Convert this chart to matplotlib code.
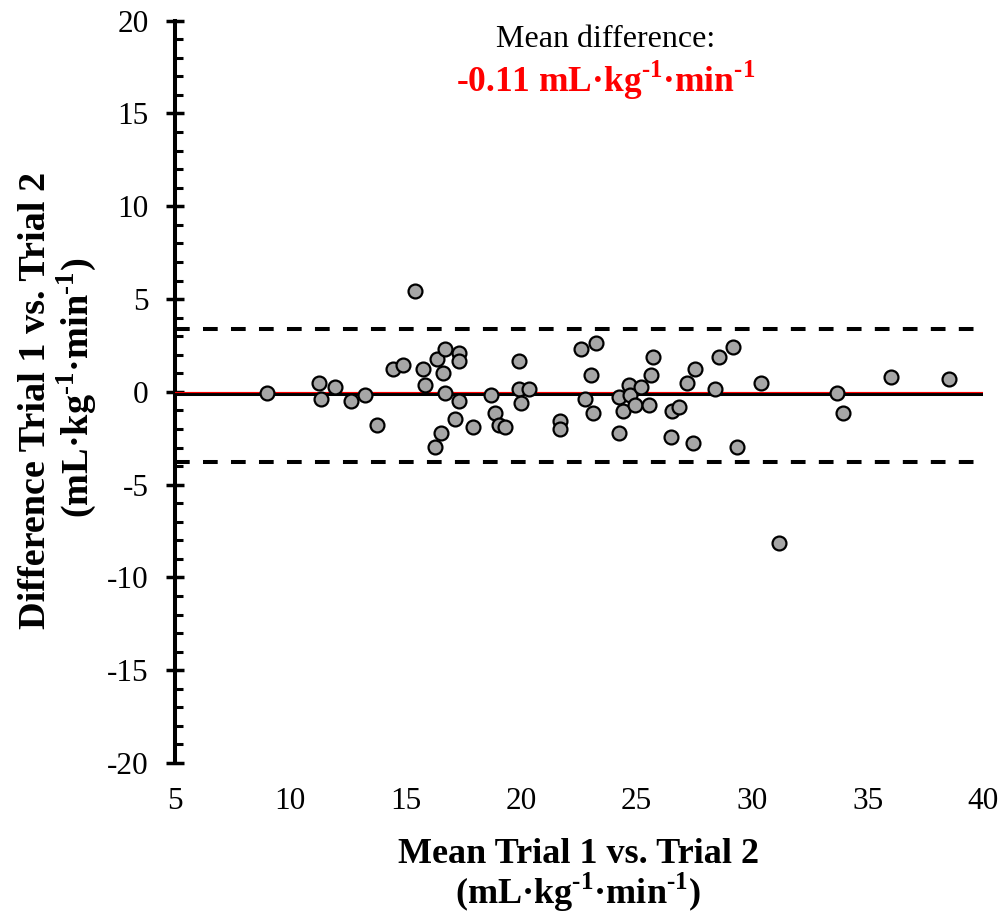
import numpy as np
import matplotlib
matplotlib.use("Agg")
import matplotlib.pyplot as plt
from matplotlib.ticker import MultipleLocator

plt.rcParams['font.family'] = ['Liberation Serif', 'DejaVu Serif']
plt.rcParams['mathtext.fontset'] = 'custom'
plt.rcParams['mathtext.rm'] = 'Liberation Serif'
plt.rcParams['mathtext.bf'] = 'Liberation Serif:bold'
plt.rcParams['axes.unicode_minus'] = False

# Bland-Altman data: mean of the two trials vs. their difference
mean_vals = [8.99, 11.24, 11.33, 11.94, 12.63, 13.23, 13.75, 14.45, 14.88, 15.41,
             15.74, 15.84, 16.26, 16.35, 16.52, 16.61, 16.70, 16.70, 17.13, 17.30,
             17.30, 17.30, 17.91, 18.68, 18.86, 19.03, 19.29, 19.90, 19.90, 19.99,
             20.33, 21.69, 21.69, 22.58, 22.76, 23.02, 23.10, 23.25, 24.23, 24.23,
             24.40, 24.66, 24.69, 24.92, 25.18, 25.53, 25.61, 25.70, 26.48, 26.54,
             26.83, 27.17, 27.43, 27.52, 28.39, 28.56, 29.16, 29.34, 30.39, 31.16,
             33.67, 33.93, 36.00, 38.52]
diff_vals = [-0.05, 0.47, -0.39, 0.25, -0.50, -0.18, -1.78, 1.23, 1.44, 5.41,
             1.23, 0.36, -2.98, 1.76, -2.23, 1.01, 2.30, -0.07, -1.47, 2.12,
             1.66, -0.50, -1.91, -0.19, -1.15, -1.80, -1.91, 1.66, 0.15, -0.61,
             0.15, -1.55, -1.98, 2.30, -0.39, 0.90, -1.15, 2.63, -0.29, -2.23,
             -1.04, 0.36, -0.18, -0.72, 0.25, -0.72, 0.90, 1.87, -2.44, -1.01,
             -0.83, 0.47, -2.77, 1.23, 0.15, 1.87, 2.41, -2.98, 0.47, -8.17,
             -0.07, -1.15, 0.79, 0.69]

mean_diff = -0.11
upper_loa = 3.40
lower_loa = -3.80
x_range = [5, 40]

W, H = 1005, 919
fig = plt.figure(figsize=(W / 100, H / 100), dpi=100)
ax = fig.add_axes([174.5 / W, 1 - 763 / H, (983.3 - 174.5) / W, (763 - 20.7) / H])

# reference lines
ax.plot(x_range, [upper_loa, upper_loa], color='black', lw=2.9,
        linestyle=(0, (3.65, 3.3)), zorder=2)
ax.plot(x_range, [lower_loa, lower_loa], color='black', lw=2.9,
        linestyle=(0, (3.65, 3.3)), zorder=2)
ax.plot(x_range, [mean_diff, mean_diff], color='black', lw=2.9, zorder=2)
ax.plot(x_range, [0, 0], color='red', lw=0.8, zorder=3)

ax.plot(mean_vals, diff_vals, 'o', ms=10, mfc='#a6a6a6', mec='black', mew=1.6,
        zorder=4, clip_on=False)

ax.set_xlim(5, 40)
ax.set_ylim(-20, 20)
ax.set_xticks(np.arange(5, 41, 5))
ax.set_yticks(np.arange(-20, 21, 5))
ax.yaxis.set_minor_locator(MultipleLocator(1))

for side in ['top', 'right', 'bottom']:
    ax.spines[side].set_visible(False)
ax.spines['left'].set_linewidth(2.9)

ax.tick_params(axis='x', length=0, pad=17, labelsize=22.5)
ax.tick_params(axis='y', which='major', direction='inout', length=13.5,
               width=2.5, pad=12, labelsize=22.5)
ax.tick_params(axis='y', which='minor', direction='in', length=6, width=2.2)

# annotation (hyphen U+2010 keeps the short dash in superscripts)
sup = r'$^{\mathbf{‐1}}$'
fig.text(606 / W, 1 - 46.7 / H, 'Mean difference:', ha='center', va='baseline',
         fontsize=23)
fig.text(606 / W, 1 - 91.7 / H, '-0.11 mL·kg' + sup + '·min' + sup,
         ha='center', va='baseline', fontsize=25.5, fontweight='bold', color='red')

# axis titles
units = '(mL·kg' + sup + '·min' + sup + ')'
fig.text(578 / W, 1 - 862.7 / H, 'Mean Trial 1 vs. Trial 2', ha='center',
         va='baseline', fontsize=26, fontweight='bold')
fig.text(578 / W, 1 - 904 / H, units, ha='center', va='baseline',
         fontsize=26, fontweight='bold')
fig.text(45 / W, 1 - 400 / H, 'Difference Trial 1 vs. Trial 2', ha='center',
         va='baseline', rotation=90, rotation_mode='anchor', fontsize=27.5,
         fontweight='bold')
fig.text(88 / W, 1 - 388 / H, units, ha='center', va='baseline', rotation=90,
         rotation_mode='anchor', fontsize=27.5, fontweight='bold')

fig.savefig('out.png', dpi=100)
